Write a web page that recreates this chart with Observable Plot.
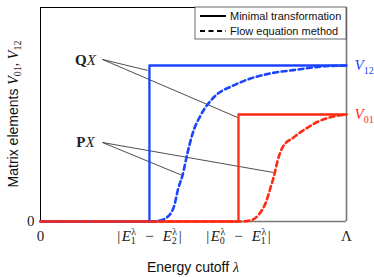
<!DOCTYPE html>
<html><head><meta charset="utf-8">
<script src="https://cdn.jsdelivr.net/npm/d3@7"></script>
<script src="https://cdn.jsdelivr.net/npm/@observablehq/plot@0.6"></script>
<style>body{margin:0;background:#fff} svg{display:block}</style>
</head><body><div id="chart"></div>
<script>
// x: energy cutoff (0 .. Λ = 1), y: matrix element (0 .. 1)
const xTicks = [0, 0.356, 0.647, 1];
const xTickKinds = ["zero", "E12", "E01", "Lambda"];
const blueLevel = 0.729;   // V12
const redLevel = 0.5;      // V01
const blueStep = 0.356;    // |E1 - E2|
const redStep = 0.647;     // |E0 - E1|

const blueSolid = [[0,0],[blueStep,0],[blueStep,blueLevel],[1,blueLevel]];
const redSolid  = [[0,0],[redStep,0],[redStep,redLevel],[1,redLevel]];

const blueDashX = [0, 0.359, 0.392, 0.408, 0.435, 0.451, 0.464, 0.480, 0.497, 0.523, 0.569, 0.631, 0.686, 0.752, 0.840, 0.915, 1.0];
const blueDashY = [0, 0, 0.005, 0.014, 0.065, 0.159, 0.215, 0.318, 0.411, 0.495, 0.584, 0.636, 0.668, 0.692, 0.710, 0.724, 0.729];
const redDashX = [0, 0.654, 0.686, 0.716, 0.735, 0.752, 0.765, 0.775, 0.791, 0.827, 0.873, 0.915, 0.958, 1.0];
const redDashY = [0, 0, 0.005, 0.037, 0.084, 0.159, 0.224, 0.285, 0.346, 0.393, 0.439, 0.472, 0.491, 0.5];

const annLabels = [{label:"QX", x:0.147, y:0.752}, {label:"PX", x:0.147, y:0.369}];
const annLinks = [
  {x1:0.203, y1:0.757, x2:0.350, y2:0.706},
  {x1:0.203, y1:0.757, x2:0.644, y2:0.486},
  {x1:0.203, y1:0.369, x2:0.464, y2:0.215},
  {x1:0.203, y1:0.369, x2:0.761, y2:0.229}
];
const seriesLabels = [{label:"V12", y:blueLevel, color:"#1a44ff"}, {label:"V01", y:redLevel, color:"#ff2a12"}];
const legendItems = ["Minimal transformation", "Flow equation method"];

const BLUE = "#1a44ff", RED = "#ff2a12";
const serif = "'Liberation Serif', 'DejaVu Serif', serif";
const sans = "'Liberation Sans', Arial, sans-serif";

const blueDash = blueDashX.map((x,i)=>[x, blueDashY[i]]);
const redDash = redDashX.map((x,i)=>[x, redDashY[i]]);

const plot = Plot.plot({
  width: 374, height: 277,
  marginLeft: 40, marginRight: 28, marginTop: 7, marginBottom: 56,
  style: {fontFamily: sans, background: "#fff"},
  x: {domain: [0, 1]},
  y: {domain: [0, 1]},
  marks: [
    Plot.ruleY([1], {stroke: "#000", strokeWidth: 1}),
    Plot.ruleX([0], {stroke: "#000", strokeWidth: 1}),
    Plot.ruleX([1], {stroke: "#777", strokeWidth: 1.6}),
    Plot.ruleY([0], {stroke: "#777", strokeWidth: 1.4}),
    Plot.axisX({ticks: xTicks, tickSize: 0, tickPadding: 9, label: null, fontSize: 15, fill: "#222",
      tickFormat: (d) => xTickKinds[xTicks.indexOf(d)]}),
    Plot.axisY({ticks: [0], tickSize: 0, tickPadding: 6, label: null, fontSize: 15, fill: "#222", tickFormat: d => "0"}),
    Plot.link(annLinks, {x1:"x1", y1:"y1", x2:"x2", y2:"y2", stroke: "#222", strokeWidth: 0.8}),
    Plot.text(annLabels, {x:"x", y:"y", text:"label", fontSize: 15, fill: "#222"}),
    Plot.line(blueSolid, {stroke: BLUE, strokeWidth: 2.3}),
    Plot.line(redSolid, {stroke: RED, strokeWidth: 2.3}),
    Plot.line(blueDash, {stroke: BLUE, strokeWidth: 2.6, strokeDasharray: "5,3.5", curve: "monotone-x"}),
    Plot.line(redDash, {stroke: RED, strokeWidth: 2.6, strokeDasharray: "5,3.5", curve: "monotone-x"}),
    Plot.text(seriesLabels, {x: () => 1, y: "y", text: "label", fill: "color", dx: 8, textAnchor: "start", fontSize: 15})
  ]
});
document.getElementById("chart").appendChild(plot);

const svg = d3.select(plot);
// Tick labels with sub/superscripts
function diffLabel(a, b) {
  const E = (n) => `<tspan font-style="italic" dx="1.5">E</tspan><tspan font-size="10" dy="-6" dx="0.5">λ</tspan><tspan font-size="10" dx="-5.5" dy="9">${n}</tspan><tspan dy="-3" dx="2">`;
  return `|${E(a)}\u2002−\u2002</tspan>${E(b)}|</tspan>`;
}
svg.selectAll("text").each(function() {
  const t = d3.select(this);
  const s = t.text();
  if (s === "zero") t.attr("font-family", serif).text("0");
  else if (s === "Lambda") t.attr("font-family", serif).text("Λ");
  else if (s === "E12") t.attr("font-family", serif).html(diffLabel("1", "2"));
  else if (s === "E01") t.attr("font-family", serif).html(diffLabel("0", "1"));
  else if (s === "0") t.attr("font-family", serif);
  else if (s === "QX" || s === "PX") t.attr("font-family", serif).html(`<tspan font-weight="bold">${s[0]}</tspan><tspan font-style="italic">X</tspan>`);
  else if (s === "V12" || s === "V01") t.attr("font-family", serif).html(`<tspan font-style="italic">V</tspan><tspan font-size="10" dy="4">${s.slice(1)}</tspan>`);
});

// Axis labels
svg.append("text").attr("x", 193).attr("y", 272).attr("text-anchor", "middle")
  .attr("font-family", sans).attr("font-size", 14).attr("fill", "#111")
  .html(`Energy cutoff <tspan font-family="${serif}" font-style="italic">λ</tspan>`);
svg.append("text").attr("transform", "translate(18,114) rotate(-90)").attr("text-anchor", "middle")
  .attr("font-family", sans).attr("font-size", 14).attr("fill", "#111")
  .html(`Matrix elements <tspan font-family="${serif}" font-style="italic">V</tspan><tspan font-family="${serif}" font-size="10" dy="3">01</tspan><tspan font-family="${serif}" dy="-3">, </tspan><tspan font-family="${serif}" font-style="italic">V</tspan><tspan font-family="${serif}" font-size="10" dy="3">12</tspan>`);

// Legend
const lg = svg.append("g").attr("transform", "translate(195,7)");
lg.append("rect").attr("x", 0).attr("y", 0).attr("width", 151).attr("height", 32)
  .attr("fill", "#fff").attr("stroke", "#444").attr("stroke-width", 0.8);
legendItems.forEach((name, i) => {
  const y = 9 + i * 15;
  lg.append("line").attr("x1", 5).attr("x2", 31).attr("y1", y).attr("y2", y)
    .attr("stroke", "#000").attr("stroke-width", 2).attr("stroke-dasharray", i ? "5,3.5" : null);
  lg.append("text").attr("x", 35).attr("y", y).attr("dy", "0.35em").attr("text-anchor", "start")
    .attr("font-family", sans).attr("font-size", 11).attr("fill", "#111").text(name);
});
</script></body></html>
